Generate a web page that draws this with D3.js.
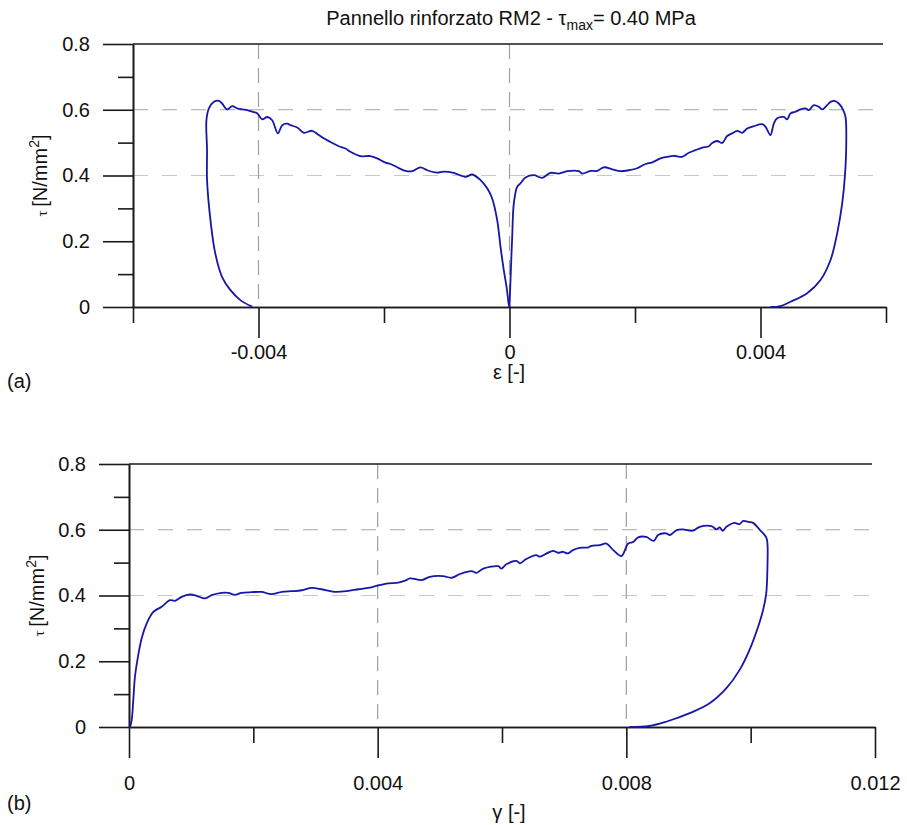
<!DOCTYPE html>
<html><head><meta charset="utf-8">
<script src="https://cdn.jsdelivr.net/npm/d3@7"></script>
<style>body{margin:0;background:#fff} svg{display:block} text{font-family:"Liberation Sans",Arial,sans-serif;fill:#111}</style>
</head><body><svg id="c" width="907" height="825"></svg>
<script>
// ---------- data ----------
const tauTicksMajor = [0, 0.2, 0.4, 0.6, 0.8];
const tauTickLabels = ["0", "0.2", "0.4", "0.6", "0.8"];
const tauTicksMinor = [0.1, 0.3, 0.5, 0.7];
const tauGrid = [0.4, 0.6];

const epsTicksMajor = [-0.004, 0, 0.004];
const epsTickLabels = ["-0.004", "0", "0.004"];
const epsTicksMinor = [-0.006, -0.002, 0.002, 0.006];
const epsGrid = [-0.004, 0];

const gammaTicksMajor = [0, 0.004, 0.008, 0.012];
const gammaTickLabels = ["0", "0.004", "0.008", "0.012"];
const gammaTicksMinor = [0.002, 0.006, 0.010];
const gammaGrid = [0.004, 0.008];

// panel (a): left gauge (negative strain)
const leftEps = [0, -0.000016, -0.000021, -0.000048, -0.000091, -0.000143, -0.000196, -0.000276, -0.000355, -0.000462,
  -0.000594, -0.000701, -0.000888, -0.001047, -0.001152, -0.001312, -0.001418, -0.001551, -0.001657, -0.00179,
  -0.001896, -0.001976, -0.002108, -0.002215, -0.002375, -0.002534, -0.002614, -0.00272, -0.002853, -0.002959,
  -0.003039, -0.003144, -0.003278, -0.003383, -0.00349, -0.003543, -0.003622, -0.003692, -0.003782, -0.003861,
  -0.003941, -0.004021, -0.0041, -0.00418, -0.00426, -0.00434, -0.00442, -0.0045, -0.00458, -0.00463,
  -0.00471, -0.00479, -0.00483, -0.00482, -0.00482, -0.00476, -0.00469, -0.00458, -0.00445, -0.00429, -0.0041];
const leftTau = [0, 0.012, 0.021, 0.062, 0.112, 0.183, 0.264, 0.330, 0.361, 0.386,
  0.403, 0.396, 0.408, 0.412, 0.409, 0.416, 0.425, 0.413, 0.414, 0.425,
  0.435, 0.439, 0.452, 0.459, 0.459, 0.472, 0.482, 0.489, 0.502, 0.513,
  0.523, 0.536, 0.530, 0.546, 0.553, 0.558, 0.553, 0.528, 0.568, 0.578,
  0.571, 0.589, 0.594, 0.599, 0.601, 0.604, 0.611, 0.601, 0.619, 0.627,
  0.624, 0.604, 0.568, 0.477, 0.386, 0.255, 0.164, 0.091, 0.052, 0.021, 0.001];

// panel (a): right gauge (positive strain)
const rightEps = [0, 0.000016, 0.000043, 0.000069, 0.000123, 0.000175, 0.000255, 0.000387, 0.000521, 0.000653,
  0.000786, 0.00092, 0.001104, 0.001159, 0.001291, 0.001398, 0.001503, 0.001637, 0.001769, 0.001901,
  0.002035, 0.002167, 0.002274, 0.002406, 0.002513, 0.002618, 0.002752, 0.002857, 0.002964, 0.003071,
  0.003176, 0.00323, 0.00331, 0.00339, 0.003469, 0.003549, 0.003629, 0.003708, 0.003788, 0.003893,
  0.004027, 0.00408, 0.004159, 0.004212, 0.004266, 0.004371, 0.004425, 0.004478, 0.004558, 0.004637,
  0.004717, 0.00477, 0.004849, 0.004929, 0.004983, 0.005063, 0.005116, 0.00518, 0.005248, 0.005318,
  0.005355, 0.005366, 0.005344, 0.005302, 0.005222, 0.005116, 0.004956, 0.004744, 0.004478, 0.004319, 0.00416];
const rightTau = [0, 0.082, 0.214, 0.315, 0.366, 0.376, 0.394, 0.401, 0.393, 0.408,
  0.406, 0.413, 0.413, 0.406, 0.414, 0.414, 0.425, 0.419, 0.413, 0.416,
  0.422, 0.435, 0.440, 0.452, 0.457, 0.460, 0.457, 0.469, 0.477, 0.485,
  0.489, 0.499, 0.505, 0.499, 0.520, 0.528, 0.536, 0.530, 0.543, 0.550,
  0.556, 0.548, 0.523, 0.558, 0.574, 0.578, 0.571, 0.589, 0.594, 0.601,
  0.604, 0.599, 0.614, 0.609, 0.601, 0.614, 0.624, 0.627, 0.619, 0.599,
  0.578, 0.487, 0.396, 0.315, 0.224, 0.143, 0.082, 0.042, 0.016, 0.003, 0];

// panel (b): shear strain
const gamma = [0, 0.000016, 0.000043, 0.000069, 0.000096, 0.00014, 0.000204, 0.000285, 0.000391, 0.000526,
  0.000659, 0.00074, 0.000847, 0.000981, 0.001088, 0.001222, 0.00133, 0.00149, 0.0016, 0.0017,
  0.00181, 0.00197, 0.00213, 0.00229, 0.00246, 0.00262, 0.00278, 0.00294, 0.0031, 0.00331,
  0.00353, 0.00369, 0.0039, 0.00404, 0.00417, 0.00433, 0.00444, 0.00452, 0.00471, 0.00484,
  0.00505, 0.00519, 0.00532, 0.00551, 0.00559, 0.0057, 0.00594, 0.00599, 0.00607, 0.00623,
  0.00629, 0.00639, 0.00655, 0.00661, 0.00672, 0.00682, 0.0069, 0.00698, 0.00706, 0.00714,
  0.00725, 0.00738, 0.00744, 0.00757, 0.00768, 0.00779, 0.00792, 0.00803, 0.00811, 0.00819,
  0.00832, 0.00844, 0.00851, 0.00864, 0.0087, 0.00881, 0.00891, 0.00907, 0.00918, 0.00937,
  0.00945, 0.0095, 0.00955, 0.00961, 0.00974, 0.00982, 0.00988, 0.00996, 0.01004, 0.01014,
  0.01025, 0.01027, 0.01027, 0.01025, 0.0102, 0.01012, 0.00998, 0.00982, 0.00961, 0.00934,
  0.00902, 0.00864, 0.00837, 0.00805];
const gammaTau = [0, 0.001, 0.021, 0.082, 0.153, 0.209, 0.270, 0.315, 0.350, 0.366,
  0.386, 0.384, 0.396, 0.403, 0.399, 0.391, 0.401, 0.408, 0.408, 0.402,
  0.408, 0.410, 0.411, 0.404, 0.411, 0.413, 0.416, 0.423, 0.419, 0.411,
  0.414, 0.419, 0.425, 0.432, 0.437, 0.439, 0.445, 0.452, 0.447, 0.457,
  0.459, 0.454, 0.465, 0.474, 0.469, 0.482, 0.489, 0.482, 0.495, 0.505,
  0.498, 0.511, 0.523, 0.518, 0.528, 0.536, 0.530, 0.533, 0.528, 0.538,
  0.545, 0.546, 0.551, 0.553, 0.558, 0.538, 0.520, 0.558, 0.563, 0.577,
  0.578, 0.566, 0.584, 0.589, 0.584, 0.599, 0.601, 0.597, 0.609, 0.611,
  0.601, 0.607, 0.597, 0.609, 0.621, 0.617, 0.627, 0.624, 0.621, 0.601,
  0.577, 0.558, 0.487, 0.406, 0.356, 0.305, 0.234, 0.173, 0.118, 0.072,
  0.042, 0.016, 0.003, 0];

// ---------- drawing ----------
const svg = d3.select("#c");
const lineColor = "#1616a8";
const axisColor = "#1a1a1a";
const fs = 20;

function panel(opts) {
  const x = d3.scaleLinear().domain(opts.xDomain).range(opts.xRange);
  const y = d3.scaleLinear().domain([0, 0.8]).range(opts.yRange);
  const g = svg.append("g");
  const [x0, x1] = opts.xRange;
  // gridlines
  g.selectAll(".hg").data(tauGrid).join("line")
    .attr("x1", x0).attr("x2", x1).attr("y1", d => y(d)).attr("y2", d => y(d))
    .attr("stroke", d => d === 0.6 ? "#a8a8a8" : "#c8c8c8").attr("stroke-width", 1.2)
    .attr("stroke-dasharray", "15,14");
  g.selectAll(".vg").data(opts.grid).join("line")
    .attr("x1", d => x(d)).attr("x2", d => x(d)).attr("y1", y(0.8)).attr("y2", y(0))
    .attr("stroke", "#a0a0a0").attr("stroke-width", 1.2)
    .attr("stroke-dasharray", "15,9");
  // top frame
  g.append("line").attr("x1", x0).attr("x2", x1 - 3).attr("y1", y(0.8)).attr("y2", y(0.8))
    .attr("stroke", axisColor).attr("stroke-width", 1.6);
  // y axis
  const yMajor = d3.axisLeft(y).tickValues(tauTicksMajor).tickSize(30).tickSizeOuter(0).tickPadding(13)
    .tickFormat((d, i) => tauTickLabels[i]);
  const yMinor = d3.axisLeft(y).tickValues(tauTicksMinor).tickSize(15).tickSizeOuter(0).tickFormat("");
  g.append("g").attr("transform", `translate(${x0},0)`).call(yMajor);
  g.append("g").attr("transform", `translate(${x0},0)`).call(yMinor);
  // x axis
  const xMajor = d3.axisBottom(x).tickValues(opts.major).tickSize(31).tickSizeOuter(0).tickPadding(opts.xPad)
    .tickFormat((d, i) => opts.labels[i]);
  const xMinor = d3.axisBottom(x).tickValues(opts.minor).tickSize(16).tickSizeOuter(0).tickFormat("");
  g.append("g").attr("transform", `translate(0,${y(0)})`).call(xMajor);
  g.append("g").attr("transform", `translate(0,${y(0)})`).call(xMinor);
  g.selectAll(".domain, .tick line").attr("stroke", axisColor).attr("stroke-width", 1.6);
  g.selectAll(".tick text").attr("font-size", fs).attr("font-family", "Liberation Sans, Arial, sans-serif").attr("fill", "#111");
  // y label
  const yl = g.append("text").attr("transform", `translate(${opts.yLabelX},${(y(0) + y(0.8)) / 2}) rotate(-90)`)
    .attr("text-anchor", "middle").attr("font-size", fs);
  yl.append("tspan").attr("font-family", "Liberation Serif, serif").attr("font-size", 15).text("τ ");
  yl.append("tspan").text("[N/mm");
  yl.append("tspan").attr("font-size", 14).attr("dy", -8).text("2");
  yl.append("tspan").attr("dy", 8).text("]");
  // curves
  const line = d3.line().x(d => x(d[0])).y(d => y(d[1])).curve(d3.curveCatmullRom.alpha(0.5));
  opts.series.forEach(s => {
    g.append("path").datum(d3.zip(s[0], s[1])).attr("d", line)
      .attr("fill", "none").attr("stroke", lineColor).attr("stroke-width", 1.8)
      .attr("stroke-linejoin", "round");
  });
  return {x, y, g};
}

panel({
  xDomain: [-0.006, 0.006], xRange: [133, 886], yRange: [307, 44],
  major: epsTicksMajor, labels: epsTickLabels, minor: epsTicksMinor, grid: epsGrid, xPad: 7,
  yLabelX: 47,
  series: [[leftEps, leftTau], [rightEps, rightTau]]
});
panel({
  xDomain: [0, 0.012], xRange: [129, 875], yRange: [727, 464],
  major: gammaTicksMajor, labels: gammaTickLabels, minor: gammaTicksMinor, grid: gammaGrid, xPad: 18,
  yLabelX: 44,
  series: [[gamma, gammaTau]]
});

// title
const t = svg.append("text").attr("x", 511).attr("y", 25).attr("text-anchor", "middle").attr("font-size", 20);
t.append("tspan").text("Pannello rinforzato RM2 - τ");
t.append("tspan").attr("font-size", 14).attr("dy", 5).text("max");
t.append("tspan").attr("dy", -5).text("= 0.40 MPa");

// axis titles
svg.append("text").attr("x", 509).attr("y", 379).attr("text-anchor", "middle").attr("font-size", 20)
  .attr("font-family", "Liberation Serif, serif").text("ε [-]");
svg.append("text").attr("x", 509).attr("y", 819).attr("text-anchor", "middle").attr("font-size", 20)
  .attr("font-family", "Liberation Serif, serif").text("γ [-]");

// panel tags
svg.append("text").attr("x", 7).attr("y", 388).attr("font-size", fs).text("(a)");
svg.append("text").attr("x", 7).attr("y", 810).attr("font-size", fs).text("(b)");
</script></body></html>
